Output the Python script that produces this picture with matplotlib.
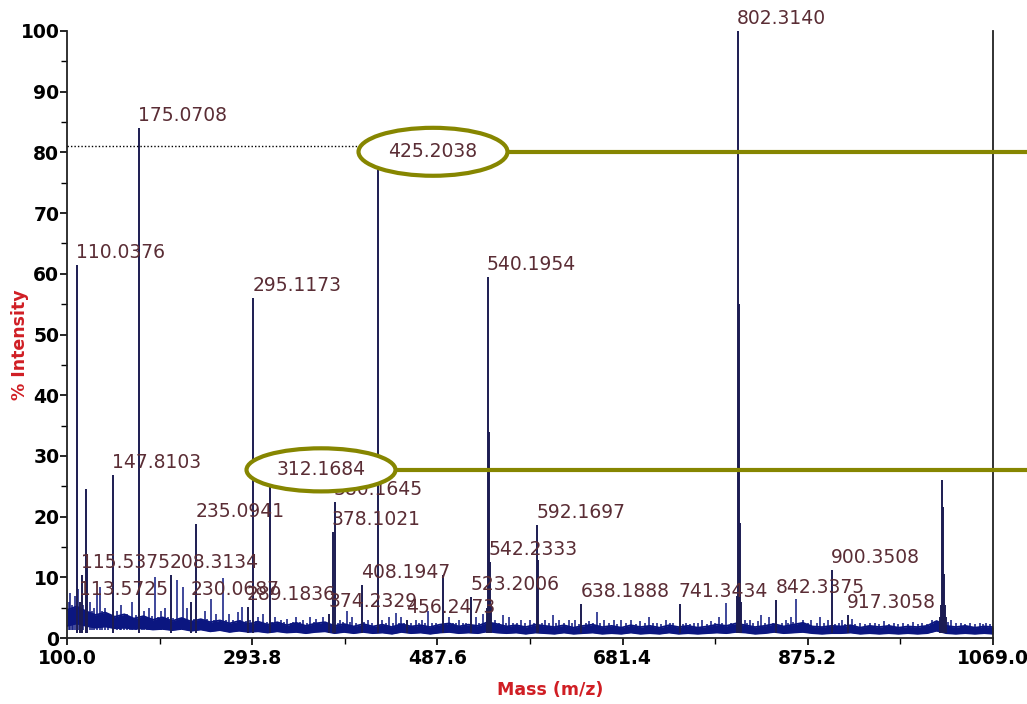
import matplotlib
matplotlib.use("Agg")
import matplotlib.pyplot as plt
from matplotlib.patches import Ellipse
from matplotlib.ticker import FixedLocator, MultipleLocator

# ---------------- data ----------------
# labelled peaks (m/z, % intensity)
label_mz = [110.0376, 113.5725, 115.5375, 147.8103, 175.0708, 208.3134, 230.0687,
            235.0941, 289.1836, 295.1173, 312.1684, 374.2329, 378.1021, 380.1645,
            408.1947, 425.2038, 456.2473, 523.2006, 540.1954, 542.2333, 592.1697,
            638.1888, 741.3434, 802.3140, 842.3375, 900.3508, 917.3058]
label_int = [61.4, 5.9, 10.4, 26.8, 84.0, 10.4, 5.9,
             18.8, 5.1, 56.0, 25.2, 3.9, 17.4, 22.4,
             8.7, 78.0, 2.9, 6.7, 59.4, 12.5, 18.6,
             5.6, 5.6, 100.0, 6.2, 11.2, 3.8]
label_txt = ["110.0376", "113.5725", "115.5375", "147.8103", "175.0708", "208.3134", "230.0687",
             "235.0941", "289.1836", "295.1173", "312.1684", "374.2329", "378.1021", "380.1645",
             "408.1947", "425.2038", "456.2473", "523.2006", "540.1954", "542.2333", "592.1697",
             "638.1888", "741.3434", "802.3140", "842.3375", "900.3508", "917.3058"]

# unlabelled strong peaks / isotope lines / peak bases
extra_mz = [120.0, 121.0, 493.8, 539.2, 541.2, 543.2, 593.2, 801.3, 803.3, 804.3, 805.3,
            1013.5, 1014.5, 1015.5, 1016.5, 1017.5, 1018.5, 1019.5]
extra_int = [24.5, 13.0, 10.4, 5.0, 34.0, 5.5, 12.8, 7.0, 55.0, 19.0, 6.0,
             3.5, 5.5, 26.0, 21.5, 10.5, 5.5, 3.5]

# small "grass" peaks
grass_mz = [102, 103, 105, 106, 108, 112, 117, 124, 126, 128, 131, 134.5, 137, 140, 143, 152,
            155, 157, 160, 163, 166, 168, 172, 178, 181, 184, 186, 189, 192, 195, 198, 201,
            203, 206, 211, 214.8, 218, 221.7, 224, 226, 233, 238, 241, 244, 247, 251, 253.5,
            256, 260, 263, 266, 270, 274, 278.7, 281, 283.5, 287, 292, 298, 300, 303, 305,
            309, 315, 318, 321, 324, 327, 330, 334, 337, 340, 344, 347, 351, 354, 358, 361,
            364, 368, 371, 384, 386, 389, 393, 396, 398, 402, 411, 415, 419, 430, 434, 437,
            441, 444.3, 447, 450, 453, 460, 465, 468, 471, 475, 478, 482, 486, 497, 500, 504,
            507, 510, 514, 518, 528, 531, 535, 546, 548, 552, 556, 559, 563, 567, 571, 575,
            579, 585, 589, 597, 600, 604, 608.3, 612, 615, 620, 625, 628, 632, 636, 643, 646,
            650, 654.3, 658, 662, 667, 672, 676, 680, 685, 690, 695, 700, 705, 709.4, 713,
            717, 722, 727, 731, 734, 745, 748, 752, 756, 760, 765, 770, 774, 778, 782, 785,
            790, 795, 809, 812, 815, 818, 822.7, 826, 830, 835, 839, 848, 852, 855, 858, 860,
            863, 866, 870, 875, 879, 884.5, 888, 892, 896, 904, 908, 911, 914, 921, 925, 930,
            935, 940, 945, 950, 955, 960, 965, 970, 975, 980, 985, 990, 995, 1000, 1005,
            1009, 1022, 1025, 1030, 1035, 1040, 1045, 1050, 1055, 1059, 1062, 1066]
grass_int = [6.0, 7.4, 5.5, 5.0, 7.0, 8.0, 5.5, 6.0, 4.5, 5.0, 7.4, 8.4, 4.5, 5.0, 4.0, 4.5,
             3.8, 5.5, 3.6, 4.0, 3.5, 6.0, 3.8, 3.6, 4.5, 3.5, 5.0, 3.6, 10.0, 3.4, 4.5, 3.3,
             5.0, 3.4, 3.3, 9.6, 3.2, 8.4, 3.2, 5.0, 3.1, 3.2, 3.0, 4.5, 3.1, 6.5, 3.0,
             4.0, 3.0, 9.9, 2.9, 4.0, 3.0, 4.3, 2.9, 5.1, 2.8, 2.9, 2.8, 3.5, 2.7, 4.0,
             2.7, 2.6, 3.5, 2.6, 3.0, 2.6, 3.2, 2.5, 2.7, 3.5, 2.6, 3.0, 2.5, 3.5, 2.6, 3.2,
             2.5, 3.5, 2.5, 2.5, 3.0, 2.6, 4.5, 2.6, 3.5, 2.5, 2.6, 3.0, 2.5, 3.0, 2.5, 3.5,
             2.4, 4.1, 2.5, 3.5, 2.4, 2.5, 3.0, 2.4, 3.0, 2.5, 4.5, 2.4, 2.5, 2.4, 3.5, 2.5,
             2.4, 3.0, 2.5, 2.4, 3.5, 2.5, 4.0, 2.5, 3.0, 2.4, 3.8, 2.5, 3.5, 2.5, 2.4, 3.0,
             2.4, 3.0, 2.5, 2.4, 3.0, 2.4, 3.8, 2.4, 3.0, 2.4, 3.0, 2.4, 3.0, 2.3, 2.4, 2.8,
             2.4, 4.3, 2.5, 3.0, 2.4, 3.0, 2.3, 3.0, 2.4, 3.0, 2.3, 2.8, 2.4, 3.5, 2.4,
             2.5, 2.3, 3.0, 2.4, 2.5, 2.3, 2.4, 2.3, 2.5, 2.4, 3.0, 2.3, 2.8, 2.4, 3.5, 2.5,
             5.8, 2.4, 3.0, 2.4, 3.0, 2.5, 2.8, 3.8, 2.5, 3.5, 2.5, 2.4, 3.0, 2.5, 3.5, 2.6,
             6.4, 2.5, 3.0, 2.4, 3.0, 2.4, 3.5, 2.4, 3.0, 2.3, 2.4, 3.0, 2.3, 3.2, 2.3, 2.5,
             2.3, 2.4, 2.5, 2.3, 2.8, 2.3, 2.5, 2.3, 2.4, 2.3, 2.6, 2.3, 2.5, 2.3, 3.0,
             2.6, 2.6, 3.0, 2.4, 2.5, 2.3, 2.4, 2.3, 2.5, 2.3, 2.5, 2.3]

# baseline noise band (m/z, low, high), read every 10 m/z
noise_mz = [100, 110, 120, 130, 140, 150, 160, 170, 180, 190, 200,
            210, 220, 230, 240, 250, 260, 270, 280, 290, 300,
            310, 320, 330, 340, 350, 360, 370, 380, 390, 400,
            410, 420, 430, 440, 450, 460, 470, 480, 490, 500,
            510, 520, 530, 540, 550, 560, 570, 580, 590, 600,
            610, 620, 630, 640, 650, 660, 670, 680, 690, 700,
            710, 720, 730, 740, 750, 760, 770, 780, 790, 800,
            810, 820, 830, 840, 850, 860, 870, 880, 890, 900,
            910, 920, 930, 940, 950, 960, 970, 980, 990, 1000,
            1010, 1020, 1030, 1040, 1050, 1060, 1069]
noise_hi = [4.6, 5.2, 4.4, 3.8, 4.2, 3.5, 3.9, 3.2, 3.6, 3.0, 3.4,
            2.8, 3.3, 2.7, 3.1, 2.6, 2.9, 2.4, 2.8, 2.3, 2.7,
            2.2, 2.6, 2.1, 2.5, 2.0, 2.4, 2.6, 2.0, 2.3, 1.9,
            2.3, 1.9, 2.2, 1.8, 2.3, 1.9, 2.1, 1.8, 2.2, 2.4,
            1.9, 2.2, 2.0, 2.6, 2.3, 1.9, 2.1, 1.8, 2.2, 2.0,
            1.8, 2.1, 1.7, 2.0, 2.2, 1.8, 2.0, 1.7, 2.1, 1.8,
            2.0, 1.7, 2.1, 1.8, 2.0, 1.7, 1.9, 2.2, 2.0, 2.4,
            2.1, 1.8, 2.0, 2.3, 1.9, 2.2, 2.5, 1.9, 1.8, 2.0,
            1.9, 2.1, 1.7, 2.0, 1.8, 2.0, 1.7, 1.9, 1.8, 2.0,
            2.8, 2.0, 1.8, 2.0, 1.7, 1.9, 1.8]
noise_lo = [2.0, 2.4, 2.0, 1.7, 1.9, 1.6, 1.7, 1.5, 1.6, 1.4, 1.5,
            1.3, 1.5, 1.2, 1.4, 1.1, 1.3, 1.0, 1.2, 1.0, 1.1,
            0.9, 1.1, 0.9, 1.0, 0.8, 1.0, 1.1, 0.8, 1.0, 0.8,
            1.0, 0.8, 0.9, 0.7, 1.0, 0.8, 0.9, 0.7, 0.9, 1.0,
            0.8, 0.9, 0.8, 1.1, 0.9, 0.8, 0.9, 0.7, 0.9, 0.8,
            0.7, 0.9, 0.7, 0.8, 0.9, 0.7, 0.8, 0.7, 0.9, 0.7,
            0.8, 0.7, 0.9, 0.7, 0.8, 0.7, 0.8, 0.9, 0.8, 1.0,
            0.9, 0.7, 0.8, 1.0, 0.8, 0.9, 1.0, 0.8, 0.7, 0.8,
            0.8, 0.9, 0.7, 0.8, 0.7, 0.8, 0.7, 0.8, 0.7, 0.8,
            1.2, 0.8, 0.7, 0.8, 0.7, 0.8, 0.7]

# highlighted peaks (ellipse centre m/z, centre intensity)
hl_mz = [483.0, 365.8]
hl_int = [80.1, 27.7]
hl_txt = ["425.2038", "312.1684"]

x_ticks = [100.0, 293.8, 487.6, 681.4, 875.2, 1069.0]
y_ticks = [0, 10, 20, 30, 40, 50, 60, 70, 80, 90, 100]
dotted_level = 81.0

# ---------------- style ----------------
PEAK = "#1c1c52"
NOISE = "#0b1680"
LBL = "#5a2d35"
OLIVE = "#868600"
RED = "#d01e24"

fig = plt.figure(figsize=(10.27, 7.04), dpi=100)
ax = fig.add_axes([67 / 1027, 66 / 704, (993 - 67) / 1027, (638 - 31) / 704])
ax.set_xlim(100.0, 1069.0)
ax.set_ylim(0, 100)

# noise band
ax.fill_between(noise_mz, noise_lo, noise_hi, color=NOISE, lw=0, zorder=2)
ax.plot(noise_mz, noise_hi, color=NOISE, lw=1.3, zorder=2)
ax.plot(noise_mz, noise_lo, color=NOISE, lw=1.3, zorder=2)
# grass (rising out of the noise band)
ax.vlines(grass_mz, 1.3, grass_int, color=NOISE, lw=1.1, zorder=2)
# peaks
ax.vlines(extra_mz, 0.9, extra_int, color=PEAK, lw=1.4, zorder=3)
ax.vlines(label_mz, 0.9, label_int, color=PEAK, lw=1.4, zorder=3)

# labels
lblfont = dict(family="DejaVu Sans", size=13.5, color=LBL)
for mz, h, t in zip(label_mz, label_int, label_txt):
    if t in hl_txt:
        continue
    ax.text(mz - 1.0, h + 2.1, t, ha="left", va="center", clip_on=False, zorder=4, **lblfont)

# dotted guide line
ax.plot([100.0, 404.5], [dotted_level, dotted_level], color="black", ls=(0, (1, 1.5)), lw=1.0,
        zorder=4, clip_on=False)

# ellipses with connector lines
for cx, cy, t, h in zip(hl_mz, hl_int, hl_txt, [7.9, 7.1]):
    w = 155.9
    e = Ellipse((cx, cy), w, h, facecolor="white", edgecolor=OLIVE, lw=3.0, zorder=5, clip_on=False)
    ax.add_patch(e)
    ax.plot([cx + w / 2, 1106.0], [cy, cy], color=OLIVE, lw=3.0, zorder=5, clip_on=False,
            solid_capstyle="butt")
    ax.text(cx, cy, t, ha="center", va="center", zorder=6, **lblfont)

# axes styling
ax.spines["top"].set_visible(False)
for s in ["left", "bottom", "right"]:
    ax.spines[s].set_linewidth(1.3)
    ax.spines[s].set_color("#222222")

ax.xaxis.set_major_locator(FixedLocator(x_ticks))
ax.xaxis.set_minor_locator(FixedLocator([(a + b) / 2 for a, b in zip(x_ticks[:-1], x_ticks[1:])]))
ax.set_xticklabels(["%.1f" % v for v in x_ticks])
ax.yaxis.set_major_locator(FixedLocator(y_ticks))
ax.yaxis.set_minor_locator(MultipleLocator(5))
ax.set_yticklabels([str(v) for v in y_ticks])
ax.tick_params(axis="both", which="major", length=5, width=1.2, labelsize=13.5)
ax.tick_params(axis="both", which="minor", length=4, width=1.0)
ax.tick_params(axis="y", which="both", right=False, pad=0.5)
ax.tick_params(axis="x", which="both", pad=3)
for lab in ax.get_xticklabels() + ax.get_yticklabels():
    lab.set_fontweight("bold")
    lab.set_family("DejaVu Sans")

fig.text(20 / 1027, 1 - 345 / 704, "% Intensity", rotation=90, ha="center", va="center",
         color=RED, fontsize=12.5, fontweight="bold", family="DejaVu Sans")
fig.text(550 / 1027, 1 - 690 / 704, "Mass (m/z)", ha="center", va="center",
         color=RED, fontsize=12.5, fontweight="bold", family="DejaVu Sans")

fig.savefig("out.png", dpi=100)
